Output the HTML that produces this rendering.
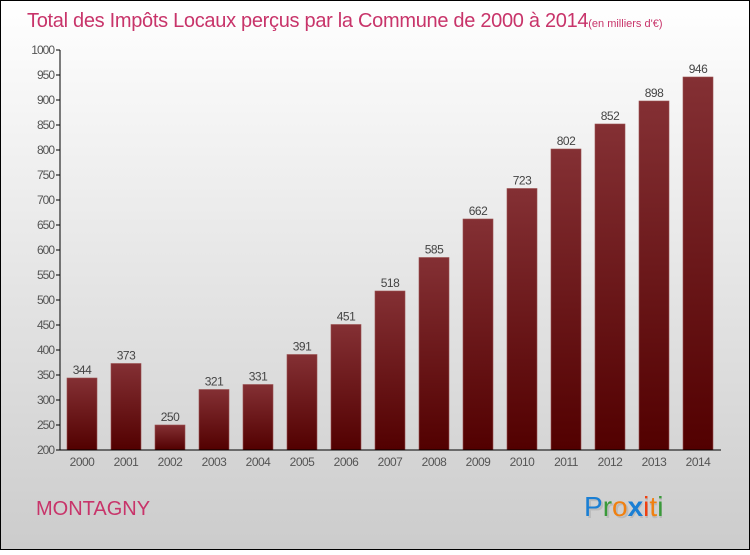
<!DOCTYPE html>
<html><head><meta charset="utf-8"><style>
html,body{margin:0;padding:0}
body{width:750px;height:550px;overflow:hidden;font-family:"Liberation Sans",sans-serif}
</style></head><body>
<svg width="750" height="550" xmlns="http://www.w3.org/2000/svg">
<defs>
<linearGradient id="bg" x1="0" y1="0" x2="0" y2="1"><stop offset="0" stop-color="#ffffff"/><stop offset="1" stop-color="#cccccc"/></linearGradient>
<linearGradient id="bar" x1="0" y1="0" x2="0" y2="1"><stop offset="0" stop-color="#843034"/><stop offset="1" stop-color="#520000"/></linearGradient>
</defs>
<rect x="0.5" y="0.5" width="749" height="549" fill="url(#bg)" stroke="#000"/>
<text x="27" y="27" font-size="20" fill="#c8346a" letter-spacing="-0.3">Total des Impôts Locaux perçus par la Commune de 2000 à 2014<tspan font-size="11" letter-spacing="0">(en milliers d'€)</tspan></text>
<g id="plot"></g>
<text x="36" y="515" font-size="20" fill="#c8346a">MONTAGNY</text>
<g font-size="28" font-family="'Liberation Sans',sans-serif">
<text x="586" y="518" fill="#bbb">Proxiti</text>
<text x="584" y="516"><tspan fill="#1a7fd4">P</tspan><tspan fill="#3a9a3a">r</tspan><tspan fill="#f08010">o</tspan><tspan fill="#1a7fd4" font-weight="bold">x</tspan><tspan fill="#f04010">i</tspan><tspan fill="#f08010">t</tspan><tspan fill="#3a9a3a">i</tspan></text>
</g>
</svg>
<script>
const categories=["2000","2001","2002","2003","2004","2005","2006","2007","2008","2009","2010","2011","2012","2013","2014"];
const values=[344,373,250,321,331,391,451,518,585,662,723,802,852,898,946];
const yTicks=[200,250,300,350,400,450,500,550,600,650,700,750,800,850,900,950,1000];
const NS="http://www.w3.org/2000/svg";
const g=document.getElementById('plot');
const y=v=>450-(v-200)*0.5;
const x=i=>82+i*44;
function el(t,a,p){const e=document.createElementNS(NS,t);for(const k in a)e.setAttribute(k,a[k]);(p||g).appendChild(e);return e;}
yTicks.forEach(v=>{
 const t=el('line',{x1:56,x2:60,y1:y(v),y2:y(v),stroke:'#000'});
 
 
 const l=el('text',{x:54,y:y(v)+4,'text-anchor':'end','font-size':12,fill:'#555','letter-spacing':'-1'});
 l.textContent=v;
 
 
});
values.forEach((v,i)=>{
 const b=el('rect',{x:x(i)-15,y:y(v),width:30,height:450-y(v),fill:'url(#bar)',stroke:'#9a5050','stroke-width':0.6});
 
 
 const t=el('text',{x:x(i),y:y(v)-4,'text-anchor':'middle','font-size':12,fill:'#444','letter-spacing':'-0.5'});
 t.textContent=v;
 
 
 const c=el('text',{x:x(i),y:466,'text-anchor':'middle','font-size':12,fill:'#555','letter-spacing':'-0.5'});
 c.textContent=categories[i];
 
 
});
const ya=el('line',{x1:60,x2:60,y1:50,y2:450,stroke:'#000'});


const xa=el('line',{x1:60,x2:721,y1:450,y2:450,stroke:'#000'});


</script>
</body></html>
